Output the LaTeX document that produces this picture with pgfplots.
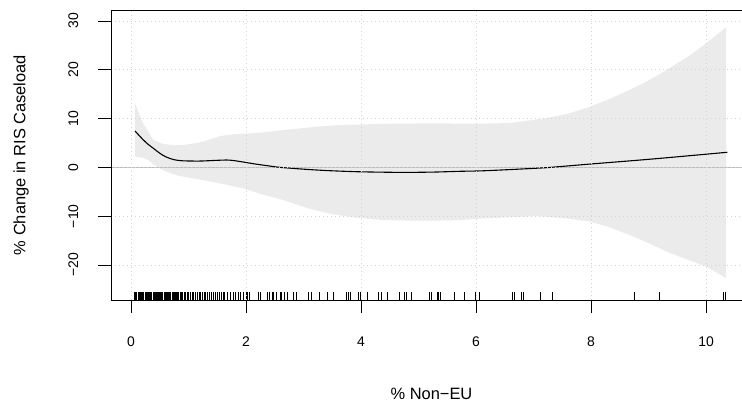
\documentclass[border=0pt]{standalone}
\usepackage{pgfplots}
\pgfplotsset{compat=1.18}
\usepackage{fontspec}
\setmainfont{Liberation Sans}
\definecolor{bandgray}{RGB}{235,235,235}
\definecolor{zerogray}{RGB}{190,190,190}
\definecolor{gridgray}{RGB}{211,211,211}
\newcommand{\tl}[1]{{\fontsize{14}{16}\selectfont #1}}
\begin{document}
\begin{tikzpicture}
\begin{axis}[
  at={(111bp,107bp)}, anchor=south west,
  scale only axis, width=641bp, height=290bp,
  xmin=-0.348, xmax=10.8, ymin=-27.17, ymax=32.25,
  axis on top,
  axis line style={black, line width=0.9bp},
  xtick={0,2,4,6,8,10}, ytick={-20,-10,0,10,20,30},
  xticklabels={\tl{0},\tl{2},\tl{4},\tl{6},\tl{8},\tl{10}},
  yticklabels={\tl{−20},\tl{−10},\tl{0},\tl{10},\tl{20},\tl{30}},
  xtick pos=bottom, ytick pos=left,
  tick align=outside, major tick length=13bp,
  tick style={black, line width=0.9bp},
  grid=major,
  grid style={gridgray, line width=0.7bp, dash pattern=on 1bp off 3bp},
  /pgf/number format/assume math mode=true,
  xticklabel style={anchor=north, inner sep=0pt},
  xticklabel shift=23.5bp,
  yticklabel style={rotate=90, anchor=south, inner sep=0pt},
  yticklabel shift=19.5bp,
  xlabel={\% Non−EU}, ylabel={\% Change in RIS Caseload},
  every axis x label/.style={at={(rel axis cs:0.5,-0.324)}, anchor=center, font=\fontsize{16.5}{18}\selectfont},
  every axis y label/.style={at={(rel axis cs:-0.1404,0.5)}, rotate=90, anchor=center, font=\fontsize{16.5}{18}\selectfont},
]
% confidence band
\addplot[fill=bandgray, draw=none] coordinates {
 (0.07,13.1) (0.21,9.0) (0.39,5.6) (0.56,4.8) (0.75,4.55) (0.91,4.6) (1.1,4.9)
 (1.26,5.3) (1.54,6.4) (1.78,6.8) (2.24,7.1) (2.7,7.7) (3.11,8.2) (3.5,8.6)
 (3.98,8.8) (4.5,8.95) (5.0,9.0) (5.5,9.0) (6.07,8.95) (6.59,9.1) (7.23,10.1)
 (7.6,11.0) (7.98,12.4) (8.3,13.9) (8.68,15.9) (9.0,17.8) (9.32,20.0) (9.7,22.8)
 (10.0,25.4) (10.35,28.7)
 (10.35,-22.7) (10.0,-20.3) (9.7,-19.0) (9.32,-17.3) (9.0,-15.5) (8.68,-13.9)
 (8.3,-12.2) (7.98,-11.1) (7.6,-10.5) (7.23,-10.1) (7.0,-10.0) (6.59,-10.2)
 (6.07,-10.5) (5.72,-10.8) (5.3,-10.9) (4.85,-10.9) (4.4,-10.8) (3.98,-10.4)
 (3.5,-9.6) (3.11,-8.5) (2.65,-6.7) (2.24,-5.4) (1.95,-4.3) (1.6,-3.4)
 (1.25,-2.6) (1.0,-2.1) (0.79,-1.6) (0.6,-0.8) (0.5,-0.2) (0.4,0.5) (0.3,1.5)
 (0.2,2.0) (0.07,2.2)
} -- cycle;
% zero line
\addplot[zerogray, line width=0.9bp] coordinates {(-1,0) (12,0)};
% smooth fit
\addplot[black, line width=1.1bp, smooth, tension=0.5] coordinates {
 (0.07,7.46) (0.2,5.8) (0.3,4.7) (0.39,3.9) (0.5,2.9) (0.6,2.2) (0.74,1.6)
 (0.9,1.35) (1.2,1.3) (1.5,1.45) (1.7,1.5) (1.9,1.2) (2.13,0.75) (2.4,0.3)
 (2.6,0.0) (3.11,-0.45) (3.5,-0.7) (3.98,-0.9) (4.5,-1.0) (4.85,-1.02)
 (5.3,-0.95) (5.72,-0.8) (6.07,-0.72) (6.59,-0.45) (7.0,-0.2) (7.29,0.0)
 (8.0,0.7) (9.0,1.65) (10.0,2.7) (10.37,3.1)
};
% rug
\addplot[black, line width=0.55bp, quiver={u=0,v=1.64}] table[row sep=\\] {
x y\\
0.06 -27.17\\ 0.08 -27.17\\ 0.09 -27.17\\ 0.10 -27.17\\ 0.12 -27.17\\ 0.13 -27.17\\
0.15 -27.17\\ 0.16 -27.17\\ 0.18 -27.17\\ 0.19 -27.17\\ 0.21 -27.17\\ 0.22 -27.17\\
0.24 -27.17\\ 0.25 -27.17\\ 0.27 -27.17\\ 0.28 -27.17\\ 0.30 -27.17\\ 0.31 -27.17\\
0.33 -27.17\\ 0.34 -27.17\\ 0.36 -27.17\\ 0.38 -27.17\\ 0.39 -27.17\\ 0.41 -27.17\\
0.42 -27.17\\ 0.44 -27.17\\ 0.46 -27.17\\ 0.47 -27.17\\ 0.49 -27.17\\ 0.51 -27.17\\
0.53 -27.17\\ 0.55 -27.17\\ 0.57 -27.17\\ 0.59 -27.17\\ 0.61 -27.17\\ 0.63 -27.17\\
0.65 -27.17\\ 0.67 -27.17\\ 0.69 -27.17\\ 0.71 -27.17\\ 0.73 -27.17\\ 0.75 -27.17\\
0.77 -27.17\\ 0.79 -27.17\\ 0.81 -27.17\\ 0.83 -27.17\\ 0.86 -27.17\\ 0.88 -27.17\\
0.90 -27.17\\ 0.92 -27.17\\ 0.95 -27.17\\ 0.97 -27.17\\ 1.00 -27.17\\ 1.03 -27.17\\
1.06 -27.17\\ 1.09 -27.17\\ 1.12 -27.17\\ 1.15 -27.17\\ 1.18 -27.17\\ 1.21 -27.17\\
1.24 -27.17\\ 1.27 -27.17\\ 1.30 -27.17\\ 1.33 -27.17\\ 1.36 -27.17\\ 1.40 -27.17\\
1.43 -27.17\\ 1.46 -27.17\\ 1.50 -27.17\\ 1.53 -27.17\\ 1.57 -27.17\\ 1.60 -27.17\\
1.63 -27.17\\ 1.68 -27.17\\ 1.72 -27.17\\ 1.78 -27.17\\ 1.82 -27.17\\ 1.86 -27.17\\
1.90 -27.17\\ 1.95 -27.17\\ 2.00 -27.17\\ 2.03 -27.17\\ 2.06 -27.17\\ 2.21 -27.17\\
2.24 -27.17\\ 2.37 -27.17\\ 2.40 -27.17\\ 2.45 -27.17\\ 2.48 -27.17\\ 2.52 -27.17\\
2.59 -27.17\\ 2.62 -27.17\\ 2.66 -27.17\\ 2.71 -27.17\\ 2.82 -27.17\\ 2.88 -27.17\\
3.08 -27.17\\ 3.14 -27.17\\ 3.27 -27.17\\ 3.42 -27.17\\ 3.51 -27.17\\ 3.74 -27.17\\
3.77 -27.17\\ 3.82 -27.17\\ 3.96 -27.17\\ 3.99 -27.17\\ 4.11 -27.17\\ 4.30 -27.17\\
4.35 -27.17\\ 4.46 -27.17\\ 4.67 -27.17\\ 4.76 -27.17\\ 4.79 -27.17\\ 4.88 -27.17\\
5.19 -27.17\\ 5.23 -27.17\\ 5.33 -27.17\\ 5.35 -27.17\\ 5.37 -27.17\\ 5.63 -27.17\\
5.80 -27.17\\ 5.99 -27.17\\ 6.06 -27.17\\ 6.63 -27.17\\ 6.67 -27.17\\ 6.79 -27.17\\
6.83 -27.17\\ 7.11 -27.17\\ 7.32 -27.17\\ 8.76 -27.17\\ 9.18 -27.17\\ 10.30 -27.17\\
10.33 -27.17\\
};
\end{axis}
\pgfresetboundingbox
\useasboundingbox (0,0) rectangle (742bp,407bp);
\end{tikzpicture}
\end{document}
